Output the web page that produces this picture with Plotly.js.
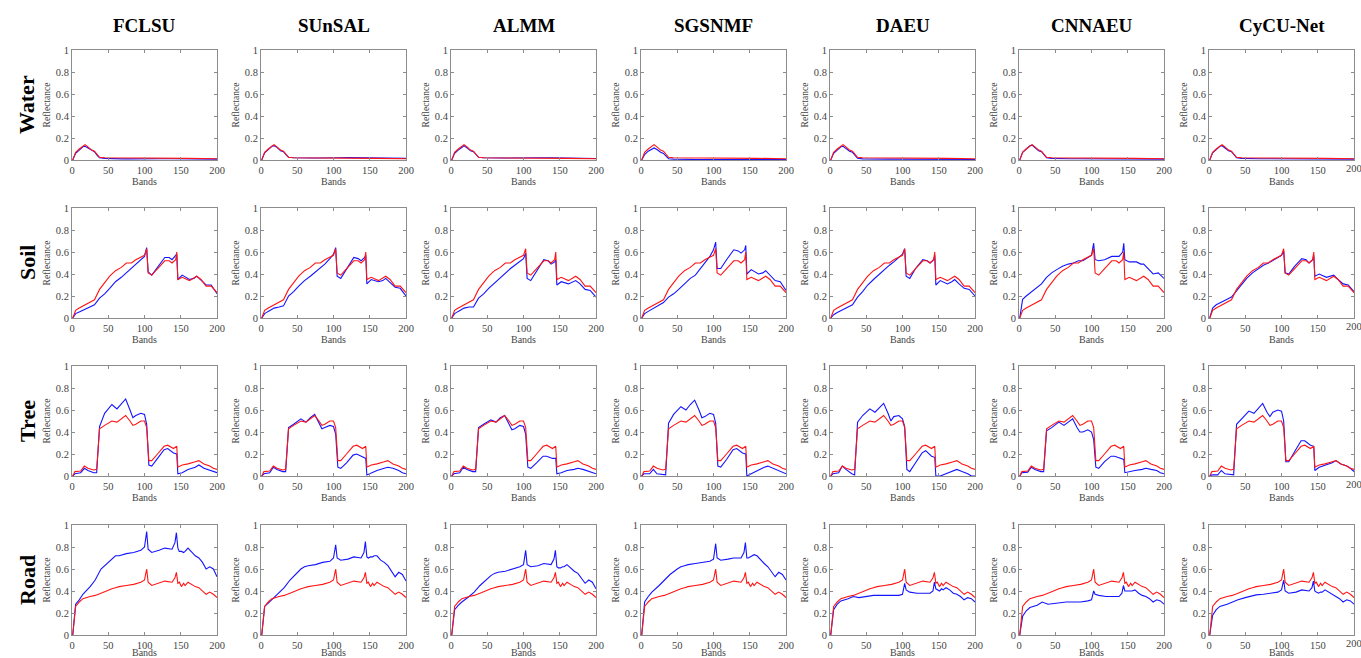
<!DOCTYPE html>
<html>
<head>
<meta charset="utf-8">
<script src="https://cdn.plot.ly/plotly-3.0.1.min.js"></script>
<style>html,body{margin:0;padding:0;background:#fff;}#chart{width:1361px;height:658px;}</style>
</head>
<body>
<div id="chart"></div>
<script>
// ---------- categories ----------
const methods = ["FCLSU", "SUnSAL", "ALMM", "SGSNMF", "DAEU", "CNNAEU", "CyCU-Net"];
const materials = ["Water", "Soil", "Tree", "Road"];
const xTickVals = [0, 50, 100, 150, 200];
const yTickVals = [0, 0.2, 0.4, 0.6, 0.8, 1];
const yTickText = ["0", "0.2", "0.4", "0.6", "0.8", "1"];

// ---------- Water ----------
const waterBands = [1,5,10,15,18,22,27,31,35,38,45,55,60,70,80,90,100,105,120,140,160,200];
const waterRef = [0,0.07,0.1,0.13,0.14,0.12,0.09,0.08,0.05,0.025,0.02,0.02,0.015,0.02,0.018,0.02,0.02,0.015,0.02,0.018,0.015,0.012];
const waterFCLSU = [0,0.06,0.09,0.12,0.125,0.11,0.085,0.075,0.04,0.02,0.015,0.012,0.008,0.01,0.01,0.012,0.012,0.01,0.012,0.012,0.01,0.008];
const waterSUnSAL = [0,0.065,0.095,0.125,0.13,0.115,0.085,0.075,0.045,0.025,0.02,0.018,0.015,0.018,0.018,0.02,0.025,0.02,0.022,0.02,0.02,0.015];
const waterALMM = [0,0.06,0.09,0.12,0.13,0.11,0.085,0.075,0.045,0.025,0.02,0.018,0.015,0.018,0.018,0.02,0.022,0.02,0.02,0.02,0.018,0.014];
const waterSGSNMF = [0,0.05,0.08,0.1,0.11,0.095,0.07,0.06,0.03,0.012,0.008,0.005,0.004,0.004,0.004,0.005,0.005,0.004,0.005,0.005,0.004,0.003];
const waterDAEU = [0,0.06,0.09,0.12,0.125,0.105,0.08,0.07,0.035,0.015,0.01,0.008,0.006,0.008,0.008,0.008,0.008,0.006,0.007,0.007,0.006,0.005];
const waterCNNAEU = [0,0.07,0.1,0.13,0.135,0.115,0.085,0.075,0.045,0.02,0.015,0.012,0.01,0.012,0.012,0.012,0.012,0.01,0.012,0.012,0.01,0.008];
const waterCyCU = [0,0.065,0.095,0.125,0.13,0.11,0.085,0.075,0.04,0.02,0.015,0.012,0.01,0.012,0.012,0.012,0.012,0.01,0.012,0.012,0.01,0.008];

// ---------- Soil ----------
const soilBands = [1,5,10,18,25,31,38,45,52,60,68,75,82,88,95,100,103,105,110,118,128,134,138,143,144.5,146,152,162,168,172,178,185,192,200];
const soilRef = [0,0.07,0.09,0.12,0.14,0.165,0.26,0.32,0.38,0.43,0.46,0.5,0.5,0.53,0.55,0.57,0.63,0.41,0.39,0.45,0.52,0.52,0.5,0.53,0.6,0.35,0.37,0.34,0.36,0.38,0.35,0.29,0.29,0.23];
const soilFCLSU = [0,0.04,0.055,0.08,0.1,0.12,0.18,0.22,0.27,0.33,0.37,0.41,0.45,0.49,0.53,0.56,0.64,0.42,0.39,0.46,0.55,0.55,0.53,0.57,0.58,0.35,0.39,0.35,0.36,0.38,0.34,0.3,0.3,0.22];
const soilSUnSAL = [0,0.04,0.06,0.09,0.1,0.11,0.2,0.24,0.29,0.34,0.38,0.42,0.46,0.49,0.54,0.58,0.64,0.38,0.36,0.44,0.55,0.54,0.52,0.55,0.57,0.31,0.35,0.33,0.34,0.36,0.32,0.28,0.27,0.2];
const soilALMM = [0,0.04,0.06,0.09,0.1,0.1,0.18,0.22,0.27,0.32,0.37,0.41,0.45,0.48,0.52,0.54,0.59,0.36,0.34,0.43,0.53,0.52,0.49,0.51,0.53,0.3,0.33,0.31,0.33,0.34,0.31,0.26,0.25,0.19];
const soilSGSNMF = [0,0.04,0.06,0.09,0.12,0.14,0.19,0.22,0.26,0.31,0.36,0.39,0.45,0.5,0.56,0.62,0.69,0.45,0.45,0.53,0.62,0.61,0.59,0.62,0.66,0.4,0.44,0.4,0.41,0.43,0.39,0.34,0.33,0.25];
const soilDAEU = [0,0.03,0.05,0.08,0.1,0.12,0.19,0.24,0.3,0.35,0.4,0.44,0.48,0.51,0.55,0.58,0.63,0.38,0.36,0.45,0.53,0.52,0.5,0.53,0.57,0.3,0.34,0.31,0.33,0.35,0.31,0.27,0.26,0.2];
const soilCNNAEU = [0,0.17,0.2,0.24,0.28,0.31,0.37,0.41,0.44,0.47,0.49,0.5,0.52,0.52,0.55,0.57,0.68,0.53,0.52,0.53,0.56,0.56,0.56,0.6,0.68,0.53,0.51,0.51,0.49,0.49,0.45,0.4,0.41,0.36];
const soilCyCU = [0,0.09,0.12,0.15,0.17,0.19,0.25,0.31,0.36,0.41,0.45,0.48,0.5,0.52,0.55,0.57,0.61,0.41,0.4,0.47,0.54,0.53,0.5,0.53,0.57,0.38,0.4,0.37,0.38,0.39,0.35,0.31,0.3,0.24];

// ---------- Tree ----------
const treeBands = [1,4,12,17,22,30,34,38,45,55,62,68,74,80,84,88,95,100,103,106,110,118,127,132,140,144.5,146,152,160,170,175,182,190,195,200];
const treeRef = [0,0.04,0.045,0.09,0.07,0.055,0.06,0.43,0.46,0.5,0.49,0.52,0.55,0.5,0.46,0.47,0.5,0.5,0.44,0.14,0.14,0.2,0.27,0.28,0.25,0.27,0.08,0.1,0.11,0.13,0.14,0.11,0.09,0.07,0.06];
const treeFCLSU = [0,0.02,0.03,0.07,0.05,0.03,0.03,0.45,0.57,0.65,0.61,0.66,0.7,0.6,0.53,0.55,0.57,0.56,0.47,0.1,0.09,0.16,0.24,0.25,0.21,0.2,0.02,0.03,0.06,0.08,0.1,0.07,0.05,0.04,0.03];
const treeSUnSAL = [0,0.02,0.03,0.08,0.06,0.04,0.04,0.44,0.47,0.52,0.49,0.53,0.56,0.48,0.43,0.44,0.46,0.45,0.38,0.08,0.07,0.12,0.19,0.2,0.17,0.16,0.01,0.03,0.05,0.07,0.08,0.07,0.05,0.03,0.02];
const treeALMM = [0,0.02,0.03,0.08,0.06,0.04,0.04,0.44,0.47,0.51,0.49,0.53,0.55,0.47,0.42,0.43,0.46,0.45,0.38,0.08,0.07,0.12,0.18,0.18,0.16,0.16,0.02,0.03,0.05,0.06,0.07,0.06,0.04,0.03,0.02];
const treeSGSNMF = [0,0.02,0.02,0.06,0.02,0.01,0.01,0.48,0.56,0.63,0.6,0.65,0.69,0.6,0.53,0.54,0.57,0.56,0.48,0.09,0.08,0.15,0.24,0.25,0.21,0.2,0,0.02,0.05,0.08,0.09,0.07,0.05,0.03,0.02];
const treeDAEU = [0,0.02,0.03,0.09,0.06,0.02,0.01,0.49,0.55,0.61,0.58,0.62,0.66,0.57,0.5,0.54,0.55,0.52,0.45,0.06,0.04,0.12,0.21,0.23,0.18,0.17,0,0,0.02,0.05,0.06,0.04,0.02,0,0];
const treeCNNAEU = [0,0.03,0.035,0.08,0.06,0.04,0.04,0.41,0.44,0.49,0.46,0.49,0.52,0.44,0.4,0.4,0.42,0.4,0.33,0.08,0.07,0.13,0.18,0.18,0.16,0.15,0.03,0.04,0.05,0.06,0.07,0.06,0.05,0.03,0.02];
const treeCyCU = [0,0.01,0.01,0.05,0.02,0.01,0.01,0.47,0.52,0.59,0.57,0.62,0.66,0.58,0.54,0.58,0.6,0.59,0.5,0.13,0.13,0.22,0.32,0.32,0.28,0.27,0.05,0.08,0.1,0.12,0.14,0.11,0.09,0.07,0.04];

// ---------- Road ----------
const roadBands = [1,5,10,15,25,32,40,50,55,60,65,75,85,95,100,103,105,110,120,128,138,142,144,146,148,151,154,156,160,165,170,175,180,185,190,195,200];
const roadRef = [0,0.26,0.3,0.33,0.35,0.36,0.38,0.41,0.42,0.43,0.44,0.45,0.46,0.48,0.5,0.6,0.48,0.45,0.47,0.49,0.48,0.52,0.57,0.47,0.48,0.44,0.47,0.45,0.48,0.46,0.44,0.43,0.4,0.37,0.39,0.37,0.34];
const roadFCLSU = [0,0.28,0.32,0.37,0.44,0.5,0.6,0.66,0.69,0.72,0.72,0.74,0.75,0.77,0.8,0.94,0.78,0.75,0.77,0.79,0.78,0.84,0.93,0.79,0.76,0.76,0.75,0.76,0.79,0.75,0.72,0.7,0.66,0.6,0.62,0.6,0.53];
const roadSUnSAL = [0,0.26,0.29,0.32,0.38,0.43,0.5,0.57,0.6,0.62,0.63,0.64,0.66,0.67,0.7,0.82,0.7,0.68,0.69,0.71,0.7,0.75,0.85,0.71,0.7,0.71,0.71,0.72,0.72,0.68,0.66,0.63,0.58,0.53,0.57,0.55,0.49];
const roadALMM = [0,0.23,0.27,0.3,0.35,0.39,0.45,0.51,0.54,0.56,0.57,0.58,0.6,0.62,0.64,0.77,0.64,0.62,0.63,0.65,0.64,0.69,0.77,0.62,0.61,0.61,0.62,0.62,0.64,0.61,0.58,0.56,0.52,0.47,0.5,0.48,0.42];
const roadSGSNMF = [0,0.3,0.35,0.39,0.45,0.5,0.55,0.6,0.62,0.63,0.64,0.65,0.66,0.67,0.69,0.83,0.7,0.68,0.69,0.7,0.7,0.75,0.84,0.7,0.7,0.71,0.72,0.73,0.72,0.68,0.65,0.62,0.58,0.53,0.57,0.55,0.5];
const roadDAEU = [0,0.23,0.28,0.31,0.33,0.35,0.34,0.35,0.36,0.36,0.36,0.36,0.36,0.36,0.37,0.47,0.41,0.39,0.38,0.38,0.38,0.4,0.48,0.42,0.41,0.4,0.42,0.41,0.43,0.41,0.38,0.37,0.35,0.32,0.34,0.33,0.3];
const roadCNNAEU = [0,0.17,0.22,0.25,0.27,0.3,0.28,0.29,0.29,0.3,0.3,0.3,0.3,0.31,0.32,0.4,0.37,0.36,0.35,0.35,0.35,0.38,0.45,0.4,0.4,0.4,0.4,0.4,0.41,0.38,0.36,0.35,0.33,0.3,0.32,0.31,0.28];
const roadCyCU = [0,0.18,0.23,0.26,0.28,0.3,0.32,0.34,0.35,0.36,0.365,0.37,0.38,0.39,0.41,0.5,0.4,0.38,0.39,0.41,0.4,0.43,0.49,0.4,0.39,0.38,0.39,0.39,0.41,0.39,0.37,0.35,0.33,0.3,0.32,0.31,0.28];

// ---------- assemble ----------
const rowBands = [waterBands, soilBands, treeBands, roadBands];
const rowRef = [waterRef, soilRef, treeRef, roadRef];
const rowEst = [
  [waterFCLSU, waterSUnSAL, waterALMM, waterSGSNMF, waterDAEU, waterCNNAEU, waterCyCU],
  [soilFCLSU, soilSUnSAL, soilALMM, soilSGSNMF, soilDAEU, soilCNNAEU, soilCyCU],
  [treeFCLSU, treeSUnSAL, treeALMM, treeSGSNMF, treeDAEU, treeCNNAEU, treeCyCU],
  [roadFCLSU, roadSUnSAL, roadALMM, roadSGSNMF, roadDAEU, roadCNNAEU, roadCyCU]
];

const W = 1361, H = 658;
const colLeft = [72, 261, 451, 641, 830, 1019, 1209];
const panelW = 145;
const rowTop = [50, 208, 366, 525];
const panelH = 110;

const serif = "Liberation Serif, Times New Roman, serif";
const tickFont = {family: serif, size: 10.5, color: "#444"};
const traces = [];
const layout = {
  width: W, height: H,
  margin: {l: 0, r: 0, t: 0, b: 0},
  paper_bgcolor: "#fff", plot_bgcolor: "#fff",
  showlegend: false,
  font: {family: serif, color: "#333"},
  annotations: []
};

for (let r = 0; r < 4; r++) {
  for (let c = 0; c < 7; c++) {
    const i = r * 7 + c + 1;
    const xa = "x" + i, ya = "y" + i;
    traces.push({x: rowBands[r], y: rowEst[r][c], xaxis: xa, yaxis: ya, type: "scatter", mode: "lines",
      line: {color: "rgb(20,20,255)", width: 1.1}, hoverinfo: "skip"});
    traces.push({x: rowBands[r], y: rowRef[r], xaxis: xa, yaxis: ya, type: "scatter", mode: "lines",
      line: {color: "rgb(255,20,20)", width: 1.1}, hoverinfo: "skip"});
    const x0 = colLeft[c] / W, x1 = (colLeft[c] + panelW) / W;
    const y1 = 1 - rowTop[r] / H, y0 = 1 - (rowTop[r] + panelH) / H;
    const common = {
      showline: true, linecolor: "#8c8c8c", linewidth: 1, mirror: "ticks",
      ticks: "inside", ticklen: 3, tickcolor: "#8c8c8c", tickwidth: 1,
      showgrid: false, zeroline: false, fixedrange: true,
      tickfont: tickFont
    };
    const isLastCol = (c === 6);
    layout["xaxis" + i] = Object.assign({}, common, {
      domain: [x0, x1], anchor: ya, range: [0, 200],
      // Plotly drops the edge column's last label at the page border; it is placed as an annotation instead
      tickvals: isLastCol ? xTickVals.slice(0, -1) : xTickVals,
      title: {text: "Bands", font: {family: serif, size: 10, color: "#444"}, standoff: 0}
    });
    layout["yaxis" + i] = Object.assign({}, common, {
      domain: [y0, y1], anchor: xa, range: [0, 1], tickvals: yTickVals, ticktext: yTickText,
      title: {text: "Reflectance", font: {family: serif, size: 9.5, color: "#444"}, standoff: 3}
    });
    if (isLastCol) {
      const lastTick = xTickVals[xTickVals.length - 1];
      layout.annotations.push({
        text: String(lastTick), xref: "paper", yref: "paper",
        x: x1, y: y0, showarrow: false, xanchor: "center", yanchor: "top",
        yshift: -1, font: tickFont
      });
    }
  }
}

for (let c = 0; c < 7; c++) {
  layout.annotations.push({
    text: "<b>" + methods[c] + "</b>", xref: "paper", yref: "paper",
    x: (colLeft[c] + panelW / 2) / W, y: 1 - 25 / H, showarrow: false,
    xanchor: "center", yanchor: "middle",
    font: {family: serif, size: 19, color: "#000"}
  });
}
for (let r = 0; r < 4; r++) {
  layout.annotations.push({
    text: "<b>" + materials[r] + "</b>", xref: "paper", yref: "paper",
    x: 27 / W, y: 1 - (rowTop[r] + panelH / 2) / H, showarrow: false, textangle: -90,
    xanchor: "center", yanchor: "middle",
    font: {family: serif, size: 22, color: "#000"}
  });
}

Plotly.newPlot("chart", traces, layout, {staticPlot: true, displayModeBar: false});
</script>
</body>
</html>
